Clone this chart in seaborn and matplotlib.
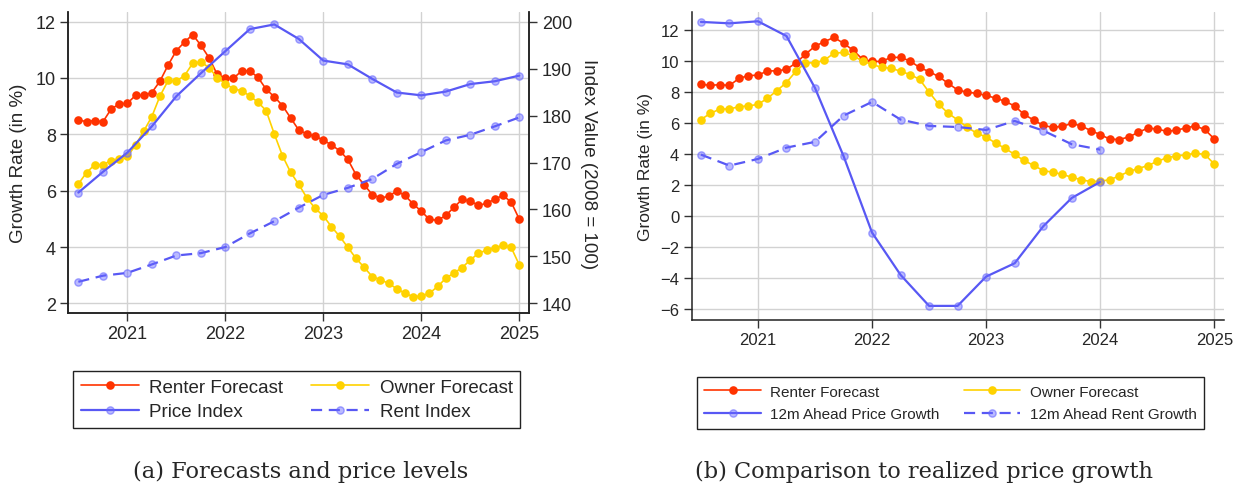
import numpy as np
import pandas as pd
import matplotlib
matplotlib.use("Agg")
import matplotlib.pyplot as plt
import seaborn as sns

# ---------------- data ----------------
# monthly survey forecasts, Jul 2020 .. Jan 2025
renter_forecast = [8.51, 8.45, 8.49, 8.44, 8.89, 9.08,
                   9.10, 9.38, 9.38, 9.48, 9.89, 10.46, 10.97, 11.27, 11.54, 11.16, 10.72, 10.13,
                   9.99, 9.99, 10.25, 10.25, 10.02, 9.60, 9.33, 9.02, 8.58, 8.15, 8.01, 7.93,
                   7.80, 7.62, 7.42, 7.11, 6.57, 6.21, 5.86, 5.74, 5.80, 5.99, 5.83, 5.53,
                   5.27, 4.98, 4.95, 5.12, 5.41, 5.69, 5.63, 5.48, 5.55, 5.70, 5.83, 5.60,
                   4.99]
owner_forecast = [6.24, 6.64, 6.92, 6.92, 7.07, 7.12,
                  7.22, 7.61, 8.11, 8.63, 9.36, 9.91, 9.89, 10.08, 10.52, 10.57, 10.37, 10.01,
                  9.80, 9.61, 9.55, 9.36, 9.14, 8.84, 8.01, 7.24, 6.65, 6.22, 5.74, 5.37,
                  5.11, 4.72, 4.38, 3.99, 3.60, 3.28, 2.95, 2.84, 2.71, 2.52, 2.36, 2.24,
                  2.26, 2.36, 2.60, 2.89, 3.08, 3.27, 3.54, 3.78, 3.89, 3.96, 4.07, 3.99,
                  3.37]
# quarterly index levels, 2020Q3 .. 2025Q1 (2008 = 100)
price_index = [163.6, 168.0, 172.1, 177.7, 184.1, 189.0, 193.7, 198.4, 199.4, 196.3,
               191.7, 190.9, 187.8, 184.9, 184.3, 185.1, 186.7, 187.3, 188.5]
rent_index = [144.6, 145.9, 146.5, 148.3, 150.2, 150.7, 152.0, 154.9, 157.5, 160.4,
              163.1, 164.6, 166.5, 169.7, 172.2, 174.7, 175.9, 177.7, 179.6]
# quarterly realized 12m-ahead growth, 2020Q3 .. 2024Q1
price_growth_12m = [12.54, 12.45, 12.58, 11.63, 8.28, 3.89, -1.05, -3.78, -5.78, -5.78,
                    -3.89, -3.03, -0.65, 1.18, 2.22]
rent_growth_12m = [3.98, 3.27, 3.70, 4.43, 4.80, 6.49, 7.38, 6.24, 5.83, 5.76,
                   5.57, 6.15, 5.53, 4.65, 4.30]

year_ticks = [2021, 2022, 2023, 2024, 2025]
start_year = 2020.5

t_month = start_year + np.arange(len(renter_forecast)) / 12.0
t_q_idx = start_year + np.arange(len(price_index)) / 4.0
t_q_gr = start_year + np.arange(len(price_growth_12m)) / 4.0

df_fc = pd.DataFrame({"t": t_month, "renter": renter_forecast, "owner": owner_forecast})
df_idx = pd.DataFrame({"t": t_q_idx, "price": price_index, "rent": rent_index})
df_gr = pd.DataFrame({"t": t_q_gr, "price": price_growth_12m, "rent": rent_growth_12m})

# ---------------- style ----------------
sns.set_style("ticks")
plt.rcParams["font.family"] = ["Liberation Sans", "DejaVu Sans"]

RED = "#ff3300"
YEL = "#ffd200"
BLUE = "#5858f4"
BLUE_FACE = (0.40, 0.40, 1.0, 0.45)
GRID = "#d2d2d2"

fig = plt.figure(figsize=(12.34, 4.89), dpi=100)
ax1 = fig.add_axes([0.0554, 0.3579, 0.3735, 0.6149])
ax1r = ax1.twinx()
ax2 = fig.add_axes([0.5605, 0.3442, 0.4314, 0.6286])

fc_kw = dict(marker="o", markersize=6.2, markeredgewidth=0, linewidth=1.2)
bl_kw = dict(marker="o", markersize=5.2, markeredgewidth=1.0, linewidth=1.6,
             markerfacecolor=BLUE_FACE, markeredgecolor=(0.40, 0.40, 1.0, 0.6))


def draw_forecasts(ax):
    sns.lineplot(data=df_fc, x="t", y="renter", ax=ax, color=RED, label="Renter Forecast", **fc_kw)
    sns.lineplot(data=df_fc, x="t", y="owner", ax=ax, color=YEL, label="Owner Forecast", **fc_kw)


# ----- panel (a) -----
draw_forecasts(ax1)
sns.lineplot(data=df_idx, x="t", y="price", ax=ax1r, color=BLUE, label="Price Index", **bl_kw)
sns.lineplot(data=df_idx, x="t", y="rent", ax=ax1r, color=BLUE, linestyle=(0, (5, 3)),
             label="Rent Index", **bl_kw)

# ----- panel (b) -----
draw_forecasts(ax2)
sns.lineplot(data=df_gr, x="t", y="price", ax=ax2, color=BLUE, label="12m Ahead Price Growth", **bl_kw)
sns.lineplot(data=df_gr, x="t", y="rent", ax=ax2, color=BLUE, linestyle=(0, (5, 3)),
             label="12m Ahead Rent Growth", **bl_kw)

for a in (ax1, ax1r, ax2):
    if a.get_legend() is not None:
        a.get_legend().remove()

# axes limits / ticks
ax1.set_xlim(2020.398, 2025.102)
ax1.set_ylim(1.66, 12.33)
ax1.set_yticks([2, 4, 6, 8, 10, 12])
ax1r.set_ylim(140 + (1.66 - 2) * 6, 140 + (12.33 - 2) * 6)
ax1r.set_yticks([140, 150, 160, 170, 180, 190, 200])
ax2.set_xlim(2020.419, 2025.085)
ax2.set_ylim(-6.67, 13.16)
ax2.set_yticks(list(range(-6, 13, 2)))

for a in (ax1, ax2):
    a.set_xticks(year_ticks)
    a.set_xticklabels([str(y) for y in year_ticks])
    a.grid(True, color=GRID, linewidth=1.0)
    a.set_axisbelow(True)
    a.set_xlabel("")

ax1.set_ylabel("Growth Rate (in %)", fontsize=13.5, labelpad=6)
ax1r.set_ylabel("Index Value (2008 = 100)", fontsize=13.5, rotation=270, labelpad=18)
ax2.set_ylabel("Growth Rate (in %)", fontsize=12.5, labelpad=5)
ax1r.set_xlabel("")

for a in (ax1, ax1r):
    a.tick_params(labelsize=13, length=6, width=1, pad=3, color="#333333")
ax2.tick_params(labelsize=12, length=6, width=1, pad=3, color="#333333")

for a in (ax1, ax1r, ax2):
    for s in a.spines.values():
        s.set_linewidth(1.1)
        s.set_color("#222222")
ax1.spines["top"].set_visible(False)
ax1r.spines["top"].set_visible(False)
ax2.spines["top"].set_visible(False)
ax2.spines["right"].set_visible(False)

# legends
h1 = ax1.get_lines()[:2] + ax1r.get_lines()[:2]
l1 = [h.get_label() for h in h1]
order = [0, 2, 1, 3]
leg1 = fig.legend([h1[i] for i in order], [l1[i] for i in order], ncol=2,
                  loc="upper left", bbox_to_anchor=(73.3 / 1234, 1 - 372 / 489),
                  fontsize=13.5, frameon=True, fancybox=False, edgecolor="#222222",
                  framealpha=1, handlelength=3.1, handletextpad=0.55, columnspacing=1.5,
                  labelspacing=0.4, borderpad=0.4, borderaxespad=0)
leg1.get_frame().set_linewidth(1.0)

h2 = ax2.get_lines()[:4]
l2 = [h.get_label() for h in h2]
leg2 = fig.legend([h2[i] for i in order], [l2[i] for i in order], ncol=2,
                  loc="upper left", bbox_to_anchor=(696.7 / 1234, 1 - 378 / 489),
                  fontsize=11, frameon=True, fancybox=False, edgecolor="#222222",
                  framealpha=1, handlelength=3.7, handletextpad=0.6, columnspacing=1.6,
                  labelspacing=0.55, borderpad=0.5, borderaxespad=0)
leg2.get_frame().set_linewidth(1.0)

# captions
cap_font = ["DejaVu Serif"]
fig.text(301 / 1234, 1 - 478 / 489, "(a) Forecasts and price levels",
         ha="center", va="baseline", fontsize=16.2, family=cap_font)
fig.text(924 / 1234, 1 - 478 / 489, "(b) Comparison to realized price growth",
         ha="center", va="baseline", fontsize=16.2, family=cap_font)

fig.savefig("out.png", dpi=100)
